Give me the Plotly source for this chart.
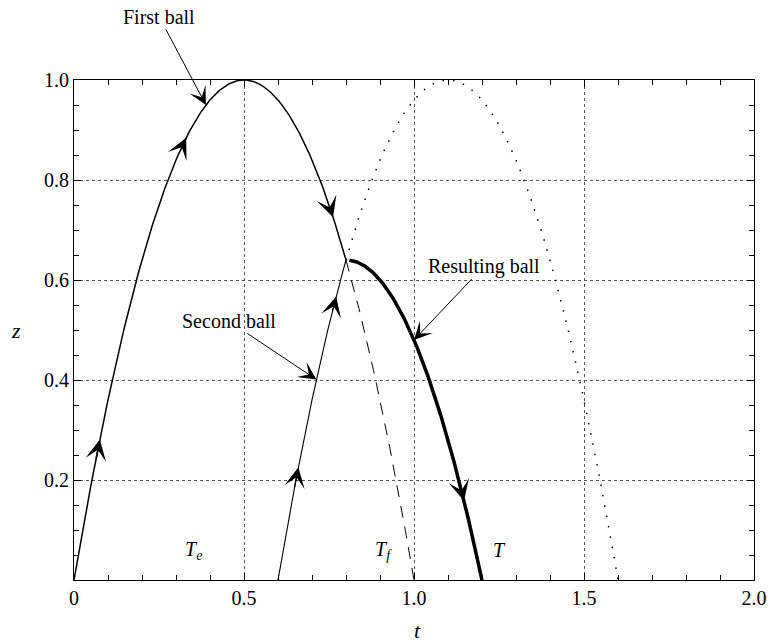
import numpy as np
import plotly.graph_objects as go

# Trajectory parameters (t in time units, z in height units)
launch_times = [0.0, 0.6]          # first ball, second ball
flight_time = 1.0                  # each free flight lasts 1.0
apex_height = 1.0
collision_time = 0.8
merged_start = 0.81                # resulting ball drawn from just after the collision
merged_landing = 1.2               # T

# Arrow tip positions along each path (t values)
first_arrows = [0.076, 0.33, 0.762]
second_arrows = [0.66, 0.771]
merged_arrows = [0.917, 1.147]

# Marker labels on the t axis
t_labels = ["T<sub>e</sub>", "T<sub>f</sub>", "T"]
t_label_pos = [0.35, 0.91, 1.25]
t_label_z = 0.06

x_tickvals = [0, 0.5, 1.0, 1.5, 2.0]
x_ticktext = ["0", "0.5", "1.0", "1.5", "2.0"]
y_tickvals = [0.2, 0.4, 0.6, 0.8, 1.0]
y_ticktext = ["0.2", "0.4", "0.6", "0.8", "1.0"]

g_half = 4 * apex_height / flight_time ** 2   # curvature of the free-flight parabola


def ball(t, t0):
    return g_half * (t - t0) * (t0 + flight_time - t)


z_collision = ball(collision_time, launch_times[0])


def merged(t):
    return z_collision - g_half * (t - collision_time) ** 2


FONT = "Liberation Serif, Times New Roman, serif"
fig = go.Figure()

# First ball: solid up to the collision, dashed afterwards
t1 = np.linspace(launch_times[0], collision_time, 200)
fig.add_trace(go.Scatter(x=t1, y=ball(t1, launch_times[0]), mode="lines",
                         line=dict(color="black", width=1.5)))
t1b = np.linspace(collision_time, launch_times[0] + flight_time, 80)
fig.add_trace(go.Scatter(x=t1b, y=ball(t1b, launch_times[0]), mode="lines",
                         line=dict(color="black", width=1, dash="12px,9px")))

# Second ball: solid up to the collision, dotted afterwards
t2 = np.linspace(launch_times[1], collision_time, 100)
fig.add_trace(go.Scatter(x=t2, y=ball(t2, launch_times[1]), mode="lines",
                         line=dict(color="black", width=1.1)))
t2b = np.linspace(collision_time, launch_times[1] + flight_time, 300)
fig.add_trace(go.Scatter(x=t2b, y=ball(t2b, launch_times[1]), mode="lines",
                         line=dict(color="black", width=1.5, dash="1.5px,9px")))

# Resulting ball
tm = np.linspace(merged_start, merged_landing, 200)
fig.add_trace(go.Scatter(x=tm, y=merged(tm), mode="lines",
                         line=dict(color="black", width=3.5)))

annotations = []


def path_arrow(t, fn, width, size, dt=0.012):
    annotations.append(dict(
        x=t, y=fn(t), ax=t - dt, ay=fn(t - dt), xref="x", yref="y",
        axref="x", ayref="y", showarrow=True, arrowhead=3,
        arrowsize=size, arrowwidth=width, arrowcolor="black", text=""))


for t in first_arrows:
    path_arrow(t, lambda s: ball(s, launch_times[0]), 1.5, 2.3)
for t in second_arrows:
    path_arrow(t, lambda s: ball(s, launch_times[1]), 1.2, 2.8)
for t in merged_arrows:
    path_arrow(t, merged, 2.5, 1.4)

# Callout labels
callouts = [
    ("First ball", 0.388, ball(0.388, launch_times[0]), 0.251, 1.126),
    ("Second ball", 0.713, ball(0.713, launch_times[1]), 0.455, 0.518),
    ("Resulting ball", 1.0, merged(1.0), 1.206, 0.628),
]
for text, tx, tz, lx, lz in callouts:
    annotations.append(dict(
        x=tx, y=tz, ax=lx, ay=lz, xref="x", yref="y", axref="x", ayref="y",
        text=text, showarrow=True, arrowhead=3, arrowsize=3.0, arrowwidth=1,
        arrowcolor="black", font=dict(family=FONT, size=20, color="black")))

for lab, tx in zip(t_labels, t_label_pos):
    annotations.append(dict(
        x=tx, y=t_label_z, xref="x", yref="y", showarrow=False,
        text="<i>" + lab + "</i>",
        font=dict(family=FONT, size=20, color="black")))

# Axis titles
annotations.append(dict(x=-0.086, y=0.5, xref="paper", yref="paper",
                        xanchor="center", yanchor="middle",
                        showarrow=False, text="<i>z</i>",
                        font=dict(family=FONT, size=22, color="black")))
annotations.append(dict(x=0.505, y=-0.1, xref="paper", yref="paper",
                        xanchor="center", yanchor="middle",
                        showarrow=False, text="<i>t</i>",
                        font=dict(family=FONT, size=22, color="black")))

axis_common = dict(
    showline=True, linecolor="black", linewidth=1, mirror="allticks",
    ticks="inside", ticklen=7, tickcolor="black", tickwidth=1,
    showgrid=True, gridcolor="#555", gridwidth=1, griddash="dot",
    zeroline=False, tickfont=dict(family=FONT, size=20, color="black"),
)

fig.update_xaxes(range=[0, 2], tickvals=x_tickvals, ticktext=x_ticktext,
                 minor=dict(ticks="inside", dtick=0.1, ticklen=5,
                            tickcolor="black", showgrid=False),
                 **axis_common)
fig.update_yaxes(range=[0, 1], tickvals=y_tickvals, ticktext=y_ticktext,
                 minor=dict(ticks="inside", dtick=0.05, ticklen=5,
                            tickcolor="black", showgrid=False),
                 **axis_common)

fig.update_layout(
    width=779, height=643,
    margin=dict(l=74, r=20, t=80, b=63),
    plot_bgcolor="white", paper_bgcolor="white",
    showlegend=False, annotations=annotations,
)

fig.write_html("out.html")
